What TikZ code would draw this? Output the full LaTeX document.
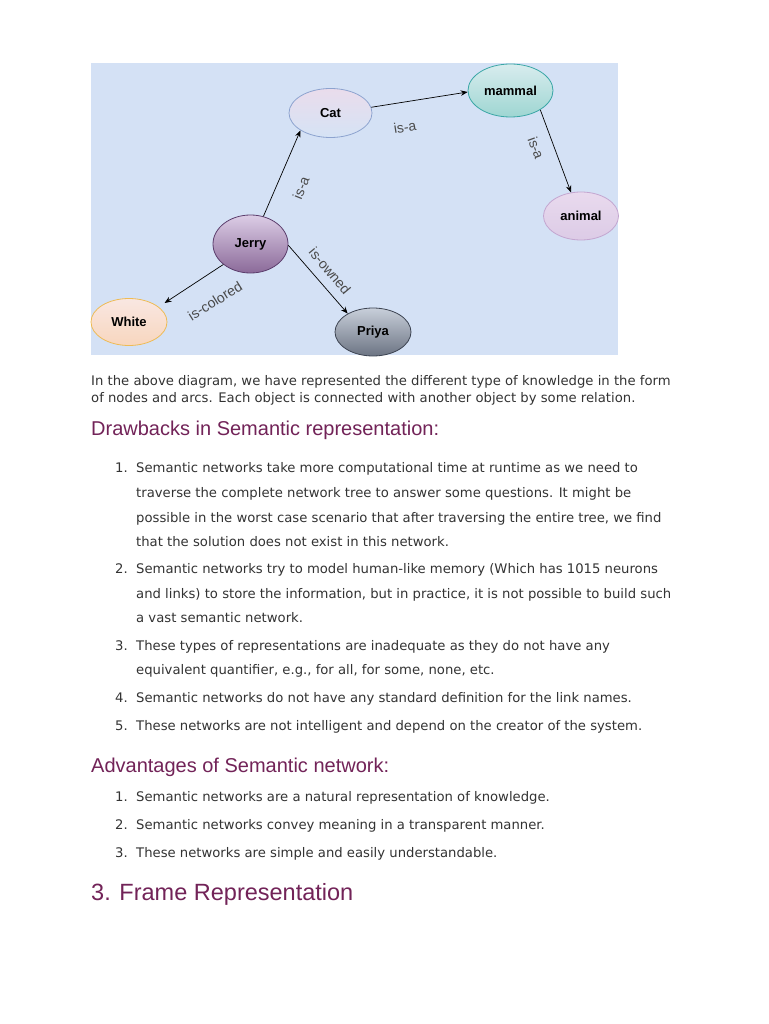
\documentclass[tikz,border=0pt]{standalone}
\usepackage{fontspec}
\setmainfont{DejaVu Sans}
\newfontfamily\diagfont{Liberation Sans}
\usetikzlibrary{shapes.geometric, arrows.meta}

\definecolor{bgblue}{HTML}{D4E1F5}
\definecolor{headcol}{HTML}{722358}
\definecolor{bodycol}{HTML}{333333}
\definecolor{relcol}{HTML}{4A4A4A}
\definecolor{catTop}{HTML}{EADCEC}\definecolor{catBot}{HTML}{D5E3F5}\definecolor{catLine}{HTML}{8DA3CF}
\definecolor{mamTop}{HTML}{D8ECEE}\definecolor{mamBot}{HTML}{9ED6D2}\definecolor{mamLine}{HTML}{3AA6A6}
\definecolor{aniTop}{HTML}{E9DAEE}\definecolor{aniBot}{HTML}{DCCBE6}\definecolor{aniLine}{HTML}{C3A6D0}
\definecolor{jerTop}{HTML}{DCCDE6}\definecolor{jerBot}{HTML}{8B6A99}\definecolor{jerLine}{HTML}{5B3D6C}
\definecolor{whiTop}{HTML}{F9E7E2}\definecolor{whiBot}{HTML}{F8D6BE}\definecolor{whiLine}{HTML}{EEBB55}
\definecolor{priTop}{HTML}{C8CFDA}\definecolor{priBot}{HTML}{6C7483}\definecolor{priLine}{HTML}{3D4452}

\begin{document}
\begin{tikzpicture}[x=1pt, y=-1pt,
  concept/.style={ellipse, draw, line width=0.8pt, inner sep=0pt,
    font=\diagfont\fontsize{13}{15}\selectfont\bfseries, text=black},
  rel/.style={font=\diagfont\fontsize{14}{16}\selectfont, text=relcol, inner sep=0pt},
  link/.style={-{Stealth[length=7pt, width=5.5pt]}, line width=0.7pt},
  body/.style={anchor=base west, inner sep=0pt, font=\fontsize{13.2}{15}\selectfont, text=bodycol},
  num/.style={anchor=base east, inner sep=0pt, font=\fontsize{13.2}{15}\selectfont, text=bodycol},
  head/.style={anchor=base west, inner sep=0pt, font=\diagfont\fontsize{20}{24}\selectfont, text=headcol}]
  \useasboundingbox (0,0) rectangle (768,1024);
  \fill[white] (0,0) rectangle (768,1024);
  \fill[bgblue] (91,63) rectangle (618,355);

  % concepts
  \node[concept, minimum width=83pt, minimum height=49pt, top color=catTop, bottom color=catBot, draw=catLine] (cat) at (330.5,113) {Cat};
  \node[concept, minimum width=85pt, minimum height=53pt, top color=mamTop, bottom color=mamBot, draw=mamLine] (mammal) at (510.5,90.5) {mammal};
  \node[concept, minimum width=75pt, minimum height=48pt, top color=aniTop, bottom color=aniBot, draw=aniLine] (animal) at (581,216) {animal};
  \node[concept, minimum width=75pt, minimum height=58pt, top color=jerTop, bottom color=jerBot, draw=jerLine] (jerry) at (250.5,244) {Jerry};
  \node[concept, minimum width=76pt, minimum height=47pt, top color=whiTop, bottom color=whiBot, draw=whiLine] (white) at (129,322) {White};
  \node[concept, minimum width=76pt, minimum height=48pt, top color=priTop, bottom color=priBot, draw=priLine] (priya) at (373,332) {Priya};

  % relations
  \draw[link] (jerry.65) -- (cat.210);
  \draw[link] (cat.8) -- (mammal.182);
  \draw[link] (mammal.327) -- (animal.113);
  \draw[link, shorten >=7pt] (jerry.217) -- (white.27);
  \draw[link] (jerry.358) -- (priya.144);
  \node[rel, rotate=68] (lblJC) at (301,188) {is-a};
  \node[rel, rotate=9] (lblCM) at (405,127) {is-a};
  \node[rel, rotate=-70] (lblMA) at (536,148) {is-a};
  \node[rel, rotate=32] (lblJW) at (215,301) {is-colored};
  \node[rel, rotate=-50] (lblJP) at (330,271) {is-owned};

  % text below the diagram
  \node[body] (p1) at (91,385) {In the above diagram, we have represented the different type of knowledge in the form};
  \node[body] (p2) at (91,402) {of nodes and arcs. Each object is connected with another object by some relation.};

  \node[head] (h1) at (91,435) {Drawbacks in Semantic representation:};
  \node[num] (d1) at (128,472) {1.};
  \node[body] (d1a) at (136,472) {Semantic networks take more computational time at runtime as we need to};
  \node[body] (d1b) at (136,497) {traverse the complete network tree to answer some questions. It might be};
  \node[body] (d1c) at (136,522) {possible in the worst case scenario that after traversing the entire tree, we find};
  \node[body] (d1d) at (136,546) {that the solution does not exist in this network.};
  \node[num] (d2) at (128,573) {2.};
  \node[body] (d2a) at (136,573) {Semantic networks try to model human-like memory (Which has 1015 neurons};
  \node[body] (d2b) at (136,598) {and links) to store the information, but in practice, it is not possible to build such};
  \node[body] (d2c) at (136,622) {a vast semantic network.};
  \node[num] (d3) at (128,650) {3.};
  \node[body] (d3a) at (136,650) {These types of representations are inadequate as they do not have any};
  \node[body] (d3b) at (136,674) {equivalent quantifier, e.g., for all, for some, none, etc.};
  \node[num] (d4) at (128,702) {4.};
  \node[body] (d4a) at (136,702) {Semantic networks do not have any standard definition for the link names.};
  \node[num] (d5) at (128,730) {5.};
  \node[body] (d5a) at (136,730) {These networks are not intelligent and depend on the creator of the system.};

  \node[head] (h2) at (91,772) {Advantages of Semantic network:};
  \node[num] (a1) at (128,801) {1.};
  \node[body] (a1a) at (136,801) {Semantic networks are a natural representation of knowledge.};
  \node[num] (a2) at (128,829) {2.};
  \node[body] (a2a) at (136,829) {Semantic networks convey meaning in a transparent manner.};
  \node[num] (a3) at (128,857) {3.};
  \node[body] (a3a) at (136,857) {These networks are simple and easily understandable.};

  \node[head, font=\diagfont\fontsize{23.5}{28}\selectfont] (h3) at (91,900) {3. Frame Representation};
\end{tikzpicture}
\end{document}
